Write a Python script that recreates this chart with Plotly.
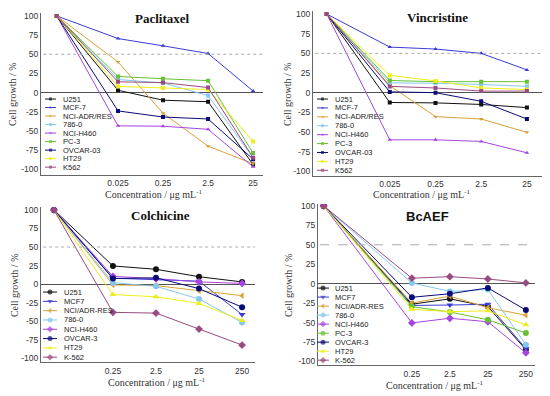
import plotly.graph_objects as go

W, H = 550, 396

# ---------------- data ----------------
cells_AB = ["U251", "MCF-7", "NCI-ADR/RES", "786-0", "NCI-H460", "PC-3", "OVCAR-03", "HT29", "K562"]
cells_C = ["U251", "MCF7", "NCI/ADR-RES", "786-0", "NCI-H460", "OVCAR-3", "HT29", "K-562"]
cells_D = ["U251", "MCF7", "NCI/ADR-RES", "786-0", "NCI-H460", "PC-3", "OVCAR-3", "HT29", "K-562"]

conc_AB = ["0.025", "0.25", "2.5", "25"]
conc_CD = ["0.25", "2.5", "25", "250"]

# first value = untreated control (100 %)
paclitaxel = {
    "U251":        [100, 3, -10, -12, -94],
    "MCF-7":       [100, 70.5, 61, 51, 2],
    "NCI-ADR/RES": [100, 40, -27, -70, -93],
    "786-0":       [100, 17, 12.5, -4, -85],
    "NCI-H460":    [100, -43.5, -44, -48, -97],
    "PC-3":        [100, 21, 18, 15.5, -79],
    "OVCAR-03":    [100, -24, -32, -34.5, -87],
    "HT29":        [100, 8, 6, 4, -64],
    "K562":        [100, 14, 13, 6.5, -85],
}
vincristine = {
    "U251":        [100, -12.5, -13, -15, -19],
    "MCF-7":       [100, 58, 55.5, 50, 29],
    "NCI-ADR/RES": [100, 9, -30.5, -33.5, -50.5],
    "786-0":       [100, 12.5, 12, 10.5, 8],
    "NCI-H460":    [100, -60, -60, -62, -76.5],
    "PC-3":        [100, 15.5, 14, 14, 14],
    "OVCAR-03":    [100, 1, 0, -11, -33.5],
    "HT29":        [100, 22, 15, 6, 4],
    "K562":        [100, 8, 6, 2, 2],
}
colchicine = {
    "U251":        [100, 24.5, 20, 10, 3],
    "MCF7":        [100, 8, 6, 4, -41],
    "NCI/ADR-RES": [100, -1, -2, -9, -15.5],
    "786-0":       [100, 2, -3, -20, -51.5],
    "NCI-H460":    [100, 10.5, 7.5, 3, 1],
    "OVCAR-3":     [100, 7.5, 8.5, -6, -31],
    "HT29":        [100, -14, -17, -26, -49],
    "K-562":       [100, -38, -39, -60.5, -82],
}
bcaef = {
    "U251":        [100, -26.5, -19.5, -29.5, -85],
    "MCF7":        [100, -28, -27.5, -26.5, -83.5],
    "NCI/ADR-RES": [100, -25, -16, -31, -40.5],
    "786-0":       [100, 1, -10, -7.5, -78.5],
    "NCI-H460":    [100, -50.5, -44.5, -49, -89],
    "PC-3":        [100, -29.5, -36.5, -46.5, -63.5],
    "OVCAR-3":     [100, -17.5, -13, -5.5, -34],
    "HT29":        [100, -33, -36, -35, -53],
    "K-562":       [100, 7, 9, 6, 1],
}

y_ticks = [100, 75, 50, 25, 0, -25, -50, -75, -100]

# ---------------- styles ----------------
colors = ["#111111", "#3b3bd4", "#d6a238", "#84c8ee", "#a645e0", "#66c233", "#0a0a78", "#eeee1a", "#9a4a80"]
sym_small = ["square", "triangle-up", "triangle-down", "square", "triangle-up", "square", "square", "square", "square"]
sym_D = ["circle", "triangle-down", "triangle-left", "circle", "diamond", "circle", "circle", "triangle-up", "diamond"]
color_idx_C = [0, 1, 2, 3, 4, 6, 7, 8]
sym_C = [sym_D[i] for i in color_idx_C]

SANS = "Liberation Sans, Arial, sans-serif"
SERIF = "Liberation Serif, Times New Roman, serif"

# panel geometry in pixels: (x_left, x_right, y_top, y_bottom), x-range, control gap, y-range
panels = [
    dict(px=(41, 263, 10, 174), xr=(-1.71, 3.22), gap=1.36, yr=(-108, 104), title="Paclitaxel",
         tpos=(162, 16), tfont=SERIF, ytpos=(12, 92), xtpos=(154, 193), dash="dot"),
    dict(px=(313, 542, 8, 175), xr=(-1.68, 3.33), gap=1.38, yr=(-106.3, 104), title="Vincristine",
         tpos=(437, 15), tfont=SERIF, ytpos=(287, 92), xtpos=(422, 193), dash="dot"),
    dict(px=(41, 255, 206, 363), xr=(-1.67, 3.3), gap=1.37, yr=(-105.3, 104), title="Colchicine",
         tpos=(160, 215), tfont=SERIF, ytpos=(14, 285), xtpos=(157, 383), dash="dot"),
    dict(px=(318, 535, 203, 366), xr=(-2.47, 3.24), gap=2.32, yr=(-105, 102.5), title="BcAEF",
         tpos=(427, 216), tfont=SANS, ytpos=(288, 285), xtpos=(435, 386), dash="dash"),
]
datasets = [
    (paclitaxel, cells_AB, conc_AB, list(range(9)), sym_small, 4),
    (vincristine, cells_AB, conc_AB, list(range(9)), sym_small, 4),
    (colchicine, cells_C, conc_CD, color_idx_C, sym_C, 6),
    (bcaef, cells_D, conc_CD, list(range(9)), sym_D, 6),
]
# legend placement (pixels): line x0, x1, text x, first row y, row step
legends = [
    (45, 56, 61, 97, 8.6),
    (317, 328, 333, 97, 9.0),
    (43, 57, 62, 292, 9.4),
    (317, 329, 333, 288, 9.1),
]

fig = go.Figure()
annotations = []
shapes = []
layout = {}

for p, (pan, ds, leg) in enumerate(zip(panels, datasets, legends), start=1):
    data, cells, conc, cidx, syms, msize = ds
    xa = "x" if p == 1 else f"x{p}"
    ya = "y" if p == 1 else f"y{p}"
    xl, xr_, yt, yb = pan["px"]
    xpos = [-pan["gap"]] + list(range(len(conc)))
    for k, name in enumerate(cells):
        col = colors[cidx[k]]
        fig.add_trace(go.Scatter(
            x=xpos, y=data[name], xaxis=xa, yaxis=ya, mode="lines+markers",
            line=dict(color=col, width=1),
            marker=dict(color=col, size=msize, symbol=syms[k], line=dict(width=0)),
            showlegend=False, name=name, hoverinfo="skip"))
    layout["xaxis" if p == 1 else f"xaxis{p}"] = dict(
        domain=[xl / W, xr_ / W], anchor=ya, range=list(pan["xr"]),
        tickvals=list(range(len(conc))), ticktext=conc, ticks="",
        showline=True, linecolor="#666", linewidth=1, showgrid=False, zeroline=False,
        tickfont=dict(family=SANS, size=8.5, color="#333"), fixedrange=True)
    layout["yaxis" if p == 1 else f"yaxis{p}"] = dict(
        domain=[1 - yb / H, 1 - yt / H], anchor=xa, range=list(pan["yr"]),
        tickvals=y_ticks, ticktext=[str(v) for v in y_ticks], ticks="",
        showline=True, linecolor="#666", linewidth=1, showgrid=False,
        zeroline=True, zerolinecolor="#555", zerolinewidth=1,
        tickfont=dict(family=SANS, size=8.5, color="#333"), fixedrange=True)
    # 50 % reference line
    shapes.append(dict(type="line", xref=f"{xa} domain", yref=ya, x0=0.01, x1=1, y0=50, y1=50,
                       line=dict(color="#aaaaaa", width=1, dash=pan["dash"])))
    # titles
    annotations.append(dict(text=f"<b>{pan['title']}</b>", x=pan["tpos"][0] / W, y=1 - pan["tpos"][1] / H,
                            xref="paper", yref="paper", showarrow=False, xanchor="center", yanchor="middle",
                            font=dict(family=pan["tfont"], size=13, color="#111")))
    annotations.append(dict(text="Cell growth / %", x=pan["ytpos"][0] / W, y=1 - pan["ytpos"][1] / H,
                            xref="paper", yref="paper", showarrow=False, textangle=-90,
                            xanchor="center", yanchor="middle",
                            font=dict(family=SERIF, size=10, color="#333")))
    annotations.append(dict(text="Concentration / μg mL<sup>-1</sup>", x=pan["xtpos"][0] / W,
                            y=1 - pan["xtpos"][1] / H, xref="paper", yref="paper", showarrow=False,
                            xanchor="center", yanchor="middle",
                            font=dict(family=SERIF, size=10, color="#333")))
    # hand-made compact legend
    lx0, lx1, ltx, ly0, lstep = leg
    for k, name in enumerate(cells):
        col = colors[cidx[k]]
        yy = ly0 + k * lstep
        fig.add_trace(go.Scatter(
            x=[lx0, (lx0 + lx1) / 2, lx1], y=[yy, yy, yy], xaxis="x9", yaxis="y9",
            mode="lines+markers", line=dict(color=col, width=1),
            marker=dict(color=col, size=[0, msize - 1, 0], symbol=syms[k], line=dict(width=0)),
            showlegend=False, hoverinfo="skip"))
        annotations.append(dict(text=name, x=ltx / W, y=1 - yy / H, xref="paper", yref="paper",
                                showarrow=False, xanchor="left", yanchor="middle",
                                font=dict(family=SANS, size=7.5, color="#222")))

layout["xaxis9"] = dict(domain=[0, 1], range=[0, W], visible=False, anchor="y9", fixedrange=True)
layout["yaxis9"] = dict(domain=[0, 1], range=[H, 0], visible=False, anchor="x9", fixedrange=True)

fig.update_layout(
    width=W, height=H, margin=dict(l=0, r=0, t=0, b=0),
    paper_bgcolor="white", plot_bgcolor="rgba(0,0,0,0)",
    showlegend=False, annotations=annotations, shapes=shapes, **layout)

fig.write_html("out.html", config={"displayModeBar": False},
               post_script="document.body.style.margin='0';document.body.style.overflow='hidden';")
